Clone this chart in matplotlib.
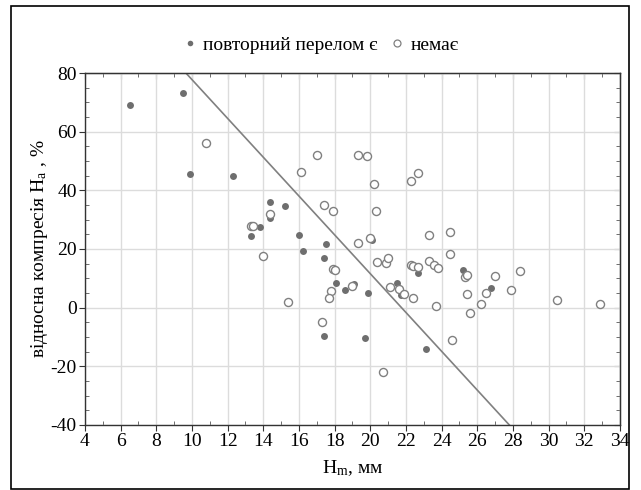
import numpy as np
import matplotlib
matplotlib.use("Agg")
import matplotlib.pyplot as plt
from matplotlib.ticker import MultipleLocator
from matplotlib.lines import Line2D
from matplotlib.patches import Rectangle

plt.rcParams['font.family'] = ['Liberation Serif', 'DejaVu Serif']
plt.rcParams['mathtext.fontset'] = 'custom'
plt.rcParams['mathtext.rm'] = 'Liberation Serif'
plt.rcParams['mathtext.it'] = 'Liberation Serif:italic'
plt.rcParams['axes.unicode_minus'] = False

# повторний перелом є (filled)
yes_x = [6.5, 9.5, 9.9, 12.3, 13.3, 13.8, 14.4, 14.4, 15.2, 16.0, 16.2, 17.5, 17.4,
         17.4, 18.1, 18.6, 19.1, 19.9, 19.7, 20.1, 21.5, 21.7, 22.7, 23.1, 25.2, 26.8]
yes_y = [69.1, 73.2, 45.5, 44.9, 24.4, 27.4, 36.1, 30.5, 34.6, 24.8, 19.4, 21.6, 16.9,
         -9.5, 8.3, 6.1, 8.0, 4.9, -10.4, 23.1, 8.3, 4.3, 11.9, -14.2, 13.0, 6.7]

# немає (open)
no_x = [10.8, 16.1, 17.0, 19.3, 19.8, 20.2, 22.3, 22.7, 17.4, 17.9, 20.3, 14.4, 13.3,
        13.4, 14.0, 19.3, 20.0, 23.3, 24.5, 24.5, 17.9, 18.0, 20.4, 20.9, 21.0, 22.3,
        22.4, 22.7, 23.3, 23.6, 23.8, 25.3, 25.4, 17.8, 17.7, 19.0, 15.4, 17.3, 20.7,
        21.1, 21.6, 21.9, 22.4, 23.7, 24.6, 25.4, 25.6, 26.2, 26.5, 27.0, 27.9, 28.4,
        30.5, 32.9]
no_y = [56.1, 46.2, 52.1, 52.1, 51.8, 42.3, 43.2, 45.8, 34.9, 32.9, 33.1, 32.0, 27.8,
        27.8, 17.6, 22.2, 23.8, 24.8, 25.7, 18.3, 13.3, 12.7, 15.5, 15.3, 16.8, 14.6,
        14.2, 13.8, 16.0, 14.5, 13.4, 10.3, 11.2, 5.8, 3.2, 7.5, 2.0, -4.9, -22.1,
        7.2, 6.3, 4.6, 3.2, 0.5, -11.0, 4.7, -1.9, 1.4, 4.9, 10.9, 6.1, 12.4,
        2.6, 1.4]

# dividing line y = b0 + b1 * x
b0 = 143.9
b1 = -6.615

fig = plt.figure(figsize=(6.41, 4.90), dpi=100)
ax = fig.add_axes([0.1326, 0.1327, 0.8344, 0.7183])

ax.set_xlim(4, 34)
ax.set_ylim(-40, 80)
ax.xaxis.set_major_locator(MultipleLocator(2))
ax.xaxis.set_minor_locator(MultipleLocator(1))
ax.yaxis.set_major_locator(MultipleLocator(20))
ax.yaxis.set_minor_locator(MultipleLocator(5))
ax.grid(True, which='major', color='#dcdcdc', lw=1.0)
ax.set_axisbelow(True)

ax.tick_params(which='major', direction='out', length=4, width=0.8,
               labelsize=14, pad=2, color='#333333')
ax.tick_params(which='minor', direction='in', length=3, width=0.6, color='#555555')
for s in ax.spines.values():
    s.set_color('#333333')
    s.set_linewidth(1.0)

top = ax.secondary_xaxis('top')
top.xaxis.set_major_locator(MultipleLocator(2))
top.xaxis.set_minor_locator(MultipleLocator(1))
top.tick_params(which='both', direction='in', labeltop=False, color='#555555')
top.tick_params(which='major', length=4)
top.tick_params(which='minor', length=3, width=0.6)
right = ax.secondary_yaxis('right')
right.yaxis.set_major_locator(MultipleLocator(20))
right.yaxis.set_minor_locator(MultipleLocator(5))
right.tick_params(which='both', direction='in', labelright=False, color='#555555')
right.tick_params(which='major', length=4)
right.tick_params(which='minor', length=3, width=0.6)

xs = np.array([4, 34])
ax.plot(xs, b0 + b1 * xs, color='#808080', lw=1.2)

ax.plot(yes_x, yes_y, 'o', color='#6e6e6e', ms=5.0, mec='none', clip_on=False)
ax.plot(no_x, no_y, 'o', mfc='white', mec='#808080', mew=1.0, ms=5.8, clip_on=False)

ax.set_xlabel('H$_\\mathrm{m}$, мм', fontsize=14, labelpad=6)
ax.set_ylabel('відносна компресія H$_\\mathrm{a}$ , %', fontsize=14, labelpad=0)

handles = [Line2D([], [], ls='none', marker='o', color='#6e6e6e', mec='none', ms=4.0),
           Line2D([], [], ls='none', marker='o', mfc='white', mec='#808080', mew=0.9, ms=5.0)]
fig.legend(handles, ['повторний перелом є', 'немає'], loc='center',
           bbox_to_anchor=(0.5, 0.908), ncol=2, frameon=False, fontsize=14,
           handletextpad=0.3, columnspacing=0.6, handlelength=0.8)

fig.patches.append(Rectangle((11 / 641, 1 / 490), 618 / 641, 483 / 490,
                             transform=fig.transFigure, fill=False,
                             ec='black', lw=1.2))

fig.savefig('out.png', dpi=100)
